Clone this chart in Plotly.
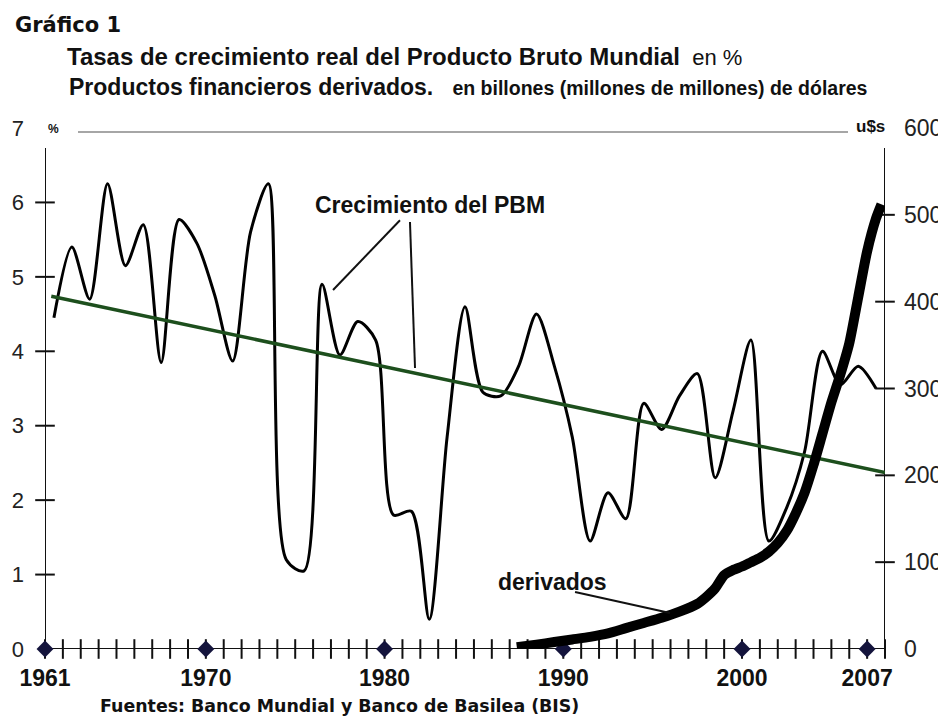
import plotly.graph_objects as go

# ---------------- data ----------------
gdp_years = list(range(1961, 2008))
gdp_growth = [4.45, 5.4, 4.7, 6.25, 5.15, 5.7, 3.85, 5.77, 5.45, 4.75,
              3.87, 5.6, 6.25, 1.2, 1.05, 4.9, 3.95, 4.4, 4.15, 1.8,
              1.85, 0.4, 2.85, 4.6, 3.45, 3.4, 3.8, 4.5, 3.8, 2.85,
              1.45, 2.1, 1.75, 3.3, 2.95, 3.4, 3.7, 2.3, 3.2, 4.15,
              1.45, 1.9, 2.65, 4.0, 3.55, 3.8, 3.5]

trend_x = [1961.35, 2008.0]
trend_values = [4.74, 2.37]

deriv_x = [1987.4, 1988.5, 1989.5, 1990.5, 1991.5, 1992.5, 1993.5, 1994.5,
           1995.5, 1996.5, 1997.5, 1998.0, 1998.5, 1999.0, 1999.5, 2000.0,
           2000.5, 2001.0, 2001.5, 2002.0, 2002.5, 2003.0, 2003.5, 2004.0,
           2004.5, 2005.0, 2005.5, 2006.0, 2006.5, 2007.0, 2007.5, 2007.8]
deriv_values = [2, 5, 8, 11, 14, 18, 24, 30,
                36, 43, 52, 60, 70, 85, 91, 95,
                100, 105, 112, 122, 136, 156, 180, 212,
                248, 284, 316, 352, 405, 458, 496, 512]

x_tick_years = [1961, 1970, 1980, 1990, 2000, 2007]
left_ticks = [0, 1, 2, 3, 4, 5, 6, 7]
right_ticks = [0, 100, 200, 300, 400, 500, 600]
x_start, x_end = 1961, 2008

# ---------------- figure ----------------
SANS = "Liberation Sans, Arial, sans-serif"
WIDE = "DejaVu Sans, Verdana, sans-serif"

fig = go.Figure()

# axis tick marks crossing the axes (every year)
all_years = list(range(x_start, x_end + 1))
fig.add_trace(go.Scatter(
    x=all_years, y=[0] * len(all_years), mode="markers", cliponaxis=False,
    marker=dict(symbol="line-ns", size=14, line=dict(width=2, color="#111")),
    hoverinfo="skip", showlegend=False))
fig.add_trace(go.Scatter(
    x=[x_start] * 6, y=left_ticks[1:7], mode="markers", cliponaxis=False,
    marker=dict(symbol="line-ew", size=14, line=dict(width=2, color="#111")),
    hoverinfo="skip", showlegend=False))
fig.add_trace(go.Scatter(
    x=[x_end] * 5, y=right_ticks[1:6], yaxis="y2", mode="markers", cliponaxis=False,
    marker=dict(symbol="line-ew", size=14, line=dict(width=2, color="#111")),
    hoverinfo="skip", showlegend=False))

# diamonds on the x axis
fig.add_trace(go.Scatter(
    x=x_tick_years, y=[0] * len(x_tick_years), mode="markers", cliponaxis=False,
    marker=dict(symbol="diamond", size=13, color="#14143c"),
    hoverinfo="skip", showlegend=False))

# GDP growth
fig.add_trace(go.Scatter(
    x=[y + 0.5 for y in gdp_years], y=gdp_growth, mode="lines",
    line=dict(color="#000", width=3, shape="spline", smoothing=0.8),
    showlegend=False))

# trend
fig.add_trace(go.Scatter(
    x=trend_x, y=trend_values, mode="lines",
    line=dict(color="#1d4f1d", width=3.5), showlegend=False))

# derivatives (right axis)
fig.add_trace(go.Scatter(
    x=deriv_x, y=deriv_values, yaxis="y2", mode="lines", cliponaxis=False,
    line=dict(color="#000", width=10, shape="spline", smoothing=0.6),
    showlegend=False))

shapes = [
    dict(type="line", xref="x", yref="y", x0=x_start, x1=x_end, y0=0, y1=0,
         line=dict(color="#111", width=2), layer="below"),
    dict(type="line", xref="x", yref="y", x0=x_start, x1=x_start, y0=0, y1=6.73,
         line=dict(color="#111", width=2), layer="below"),
    dict(type="line", xref="x", yref="y", x0=x_end, x1=x_end, y0=0, y1=6.73,
         line=dict(color="#111", width=2), layer="below"),
    dict(type="line", xref="paper", yref="paper", x0=0.0393, x1=0.956,
         y0=0.9923, y1=0.9923, line=dict(color="#888", width=1.5)),
    # pointers
    dict(type="line", xref="paper", yref="paper", x0=0.4226, y0=0.823,
         x1=0.3429, y1=0.689, line=dict(color="#111", width=2)),
    dict(type="line", xref="paper", yref="paper", x0=0.4345, y0=0.8196,
         x1=0.4405, y1=0.5393, line=dict(color="#111", width=2)),
    dict(type="line", xref="paper", yref="paper", x0=0.631, y0=0.1094,
         x1=0.744, y1=0.0691, line=dict(color="#111", width=2)),
]

ann = [
    dict(text="<b>Gráfico 1</b>", x=-0.038, y=1.1977, xanchor="left",
         font=dict(size=21, family=WIDE)),
    dict(text="<b>Tasas de crecimiento real del Producto Bruto Mundial</b>"
              "<span style='font-size:22px'>  en %</span>",
         x=0.024, y=1.1363, xanchor="left", font=dict(size=24, family=SANS)),
    dict(text="<b>Productos financieros derivados.</b>   "
              "<b><span style='font-size:19.5px'>en billones (millones de millones) de dólares</span></b>",
         x=0.0263, y=1.0787, xanchor="left", font=dict(size=23, family=SANS)),
    dict(text="<b>%</b>", x=0.0107, y=0.998, font=dict(size=12, family=SANS)),
    dict(text="<b>u$s</b>", x=0.983, y=1.002, font=dict(size=17, family=SANS)),
    dict(text="<b>Crecimiento del PBM</b>", x=0.4583, y=0.8522,
         font=dict(size=23, family=SANS)),
    dict(text="<b>derivados</b>", x=0.6036, y=0.1286,
         font=dict(size=23, family=SANS)),
    dict(text="<b>Fuentes: Banco Mundial y Banco de Basilea (BIS)</b>",
         x=0.0635, y=-0.109, xanchor="left", font=dict(size=17.4, family=WIDE)),
]
for a in ann:
    a.update(xref="paper", yref="paper", showarrow=False)
    a.setdefault("xanchor", "center")
    a["yanchor"] = "middle"
    a["font"]["color"] = "#111"

# the page body adds an 8px margin, so the figure is 8px smaller on each axis
fig.update_layout(
    width=938, height=710, autosize=False,
    margin=dict(l=37, r=61, t=120, b=69),
    paper_bgcolor="white", plot_bgcolor="white",
    shapes=shapes, annotations=ann,
    xaxis=dict(range=[x_start, x_end], tickvals=x_tick_years,
               ticktext=[str(v) for v in x_tick_years], automargin=False,
               showgrid=False, zeroline=False, showline=False, ticks="",
               ticklabelstandoff=13,
               tickfont=dict(size=23, family=SANS, color="#111", weight="bold")),
    yaxis=dict(range=[0, 7], tickvals=left_ticks, automargin=False,
               showgrid=False, zeroline=False, showline=False, ticks="",
               ticklabelstandoff=20,
               tickfont=dict(size=22, family=SANS, color="#222")),
    yaxis2=dict(range=[0, 600], tickvals=right_ticks, overlaying="y", side="right",
                automargin=False,
                showgrid=False, zeroline=False, showline=False, ticks="",
                ticklabelstandoff=18,
                tickfont=dict(size=23, family=SANS, color="#222")),
)

fig.write_html("out.html")
